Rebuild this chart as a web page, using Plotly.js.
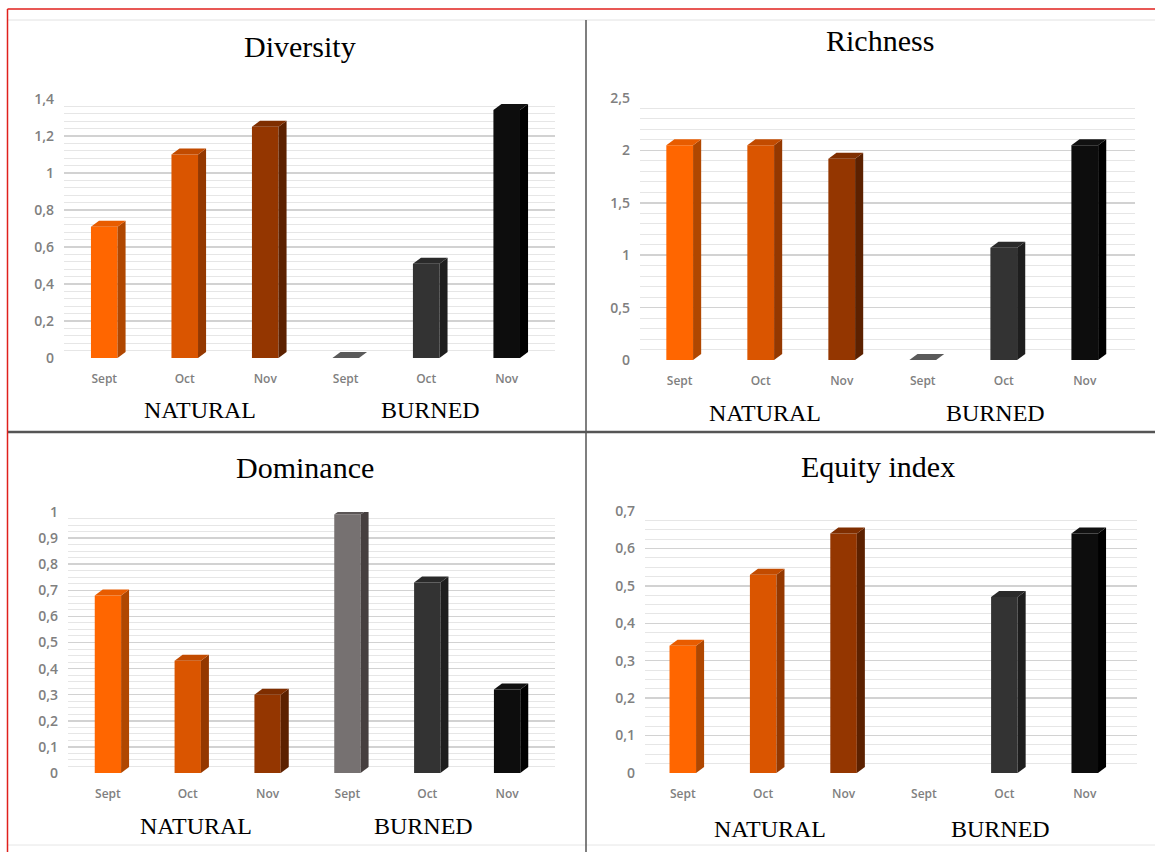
<!DOCTYPE html>
<html>
<head>
<meta charset="utf-8">
<script src="https://cdn.plot.ly/plotly-3.0.1.min.js"></script>
<style>html,body{margin:0;padding:0;background:#fff;}#chart{width:1155px;height:852px;}</style>
</head>
<body>
<div id="chart"></div>
<script>
// ---- data ----
const months = ['Sept', 'Oct', 'Nov', 'Sept', 'Oct', 'Nov'];
const groups = ['NATURAL', 'BURNED'];
const titles = ['Diversity', 'Richness', 'Dominance', 'Equity index'];
const diversity = [0.71, 1.10, 1.25, 0, 0.51, 1.34];
const richness = [2.05, 2.05, 1.92, 0, 1.07, 2.05];
const dominance = [0.68, 0.43, 0.30, 0.99, 0.73, 0.32];
const equity = [0.34, 0.53, 0.64, null, 0.47, 0.64];
const frontColors = ['#FF6600', '#DA5500', '#943600', '#767171', '#333333', '#0D0D0D'];
const sideColors = ['#B04700', '#943800', '#5C2100', '#463F3F', '#1E1E1E', '#000000'];
const topColors = ['#E85C00', '#C24B00', '#7F2E00', '#5A5555', '#2A2A2A', '#111111'];

const W = 1155, H = 852;
const px = v => v / W;
const py = v => 1 - v / H;

// panel geometry (pixels) and axis settings
const panels = [
  {vals: diversity, xpx: [64, 555], xr: [-0.5, 5.6], ypx: [99, 358], yr: [0, 1.4], dtick: 0.2, minor: 0.04,
   title: [300, 47], grp: [[200, 410], [430, 410]]},
  {vals: richness, xpx: [640, 1135], xr: [-0.49, 5.62], ypx: [98, 360], yr: [0, 2.5], dtick: 0.5, minor: 0.1,
   title: [880, 41], grp: [[765, 413], [995, 413]]},
  {vals: dominance, xpx: [68, 555], xr: [-0.5, 5.6], ypx: [512, 773], yr: [0, 1], dtick: 0.1, minor: 0.025,
   title: [305, 467], grp: [[196, 826], [423, 826]]},
  {vals: equity, xpx: [645, 1137], xr: [-0.47, 5.65], ypx: [511, 773], yr: [0, 0.7], dtick: 0.1, minor: 0.025,
   title: [878, 466], grp: [[770, 829], [1000, 829]]}
];

const traces = [];
const layout = {
  width: W, height: H,
  margin: {l: 0, r: 0, t: 0, b: 0},
  paper_bgcolor: '#ffffff', plot_bgcolor: 'rgba(0,0,0,0)',
  separators: ', ',
  showlegend: false,
  hovermode: false,
  annotations: [],
  shapes: []
};

const bw = 0.33;   // bar front width (category units)
const dxu = 0.1;   // depth offset (category units)
const dpx = 6;     // depth offset (pixels, vertical)
const xIdx = months.map((m, i) => i);

panels.forEach((p, k) => {
  const n = k + 1;
  const xa = 'x' + (n === 1 ? '' : n), ya = 'y' + (n === 1 ? '' : n);
  const xaxName = 'xaxis' + (n === 1 ? '' : n), yaxName = 'yaxis' + (n === 1 ? '' : n);
  const dyu = (p.yr[1] - p.yr[0]) * dpx / (p.ypx[1] - p.ypx[0]);

  layout[xaxName] = {
    domain: [px(p.xpx[0]), px(p.xpx[1])], range: p.xr, anchor: ya,
    tickmode: 'array', tickvals: xIdx, ticktext: months,
    showgrid: false, zeroline: false, showline: false, ticks: '',
    ticklabelstandoff: 12,
    tickfont: {family: 'Open Sans, sans-serif', size: 12, color: '#808080', weight: 600},
    fixedrange: true
  };
  layout[yaxName] = {
    domain: [py(p.ypx[1]), py(p.ypx[0])], range: p.yr, anchor: xa,
    dtick: p.dtick, tick0: 0,
    showgrid: true, gridcolor: '#d2d2d2', gridwidth: 1.5,
    minor: {dtick: p.minor, showgrid: true, gridcolor: '#e6e6e6', gridwidth: 1},
    zeroline: false, showline: false, ticks: '',
    ticklabelstandoff: 9,
    tickfont: {family: 'Open Sans, sans-serif', size: 14, color: '#808080', weight: 600},
    fixedrange: true
  };

  // front faces
  traces.push({
    type: 'bar', x: xIdx, y: p.vals, width: bw, xaxis: xa, yaxis: ya,
    marker: {color: frontColors, line: {width: 0}}, hoverinfo: 'skip'
  });

  // side and top faces computed from the data values
  p.vals.forEach((v, i) => {
    if (v === null) return;
    const r = i + bw / 2, l = i - bw / 2;
    if (v > 0) {
      traces.push({
        type: 'scatter', mode: 'lines', fill: 'toself', xaxis: xa, yaxis: ya,
        x: [r, r + dxu, r + dxu, r, r], y: [0, dyu, v + dyu, v, 0],
        fillcolor: sideColors[i], line: {width: 0}, hoverinfo: 'skip'
      });
    }
    traces.push({
      type: 'scatter', mode: 'lines', fill: 'toself', xaxis: xa, yaxis: ya,
      x: [l, l + dxu, r + dxu, r, l], y: [v, v + dyu, v + dyu, v, v],
      fillcolor: v > 0 ? topColors[i] : '#5a5a5a', line: {width: 0}, hoverinfo: 'skip'
    });
  });

  // title and group labels
  layout.annotations.push({
    text: titles[k], xref: 'paper', yref: 'paper', x: px(p.title[0]), y: py(p.title[1]),
    xanchor: 'center', yanchor: 'middle', showarrow: false,
    font: {family: 'Liberation Serif, Times New Roman, serif', size: 30, color: '#000'}
  });
  groups.forEach((g, j) => {
    layout.annotations.push({
      text: g, xref: 'paper', yref: 'paper', x: px(p.grp[j][0]), y: py(p.grp[j][1]),
      xanchor: 'center', yanchor: 'middle', showarrow: false,
      font: {family: 'Liberation Serif, Times New Roman, serif', size: 24, color: '#000'}
    });
  });
});

// frame lines
layout.shapes.push(
  {type: 'line', xref: 'paper', yref: 'paper', x0: px(8), x1: 1, y0: py(20), y1: py(20), line: {color: '#e2e2e2', width: 1}},
  {type: 'line', xref: 'paper', yref: 'paper', x0: px(8), x1: 1, y0: py(845), y1: py(845), line: {color: '#e6e6e6', width: 1}},
  {type: 'line', xref: 'paper', yref: 'paper', x0: px(586), x1: px(586), y0: py(20), y1: py(852), line: {color: '#555555', width: 1.5}},
  {type: 'line', xref: 'paper', yref: 'paper', x0: px(8), x1: 1, y0: py(432), y1: py(432), line: {color: '#555555', width: 2.5}},
  {type: 'line', xref: 'paper', yref: 'paper', x0: px(7.5), x1: 1, y0: py(9), y1: py(9), line: {color: '#e0201c', width: 1.5}},
  {type: 'line', xref: 'paper', yref: 'paper', x0: px(7.5), x1: px(7.5), y0: py(9), y1: 0, line: {color: '#e0201c', width: 1.5}}
);

Plotly.newPlot('chart', traces, layout, {staticPlot: true, displayModeBar: false});
</script>
</body>
</html>
